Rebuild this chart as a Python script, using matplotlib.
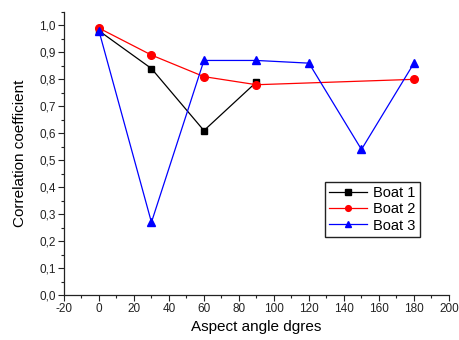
import matplotlib
matplotlib.use("Agg")
import matplotlib.pyplot as plt
from matplotlib.ticker import MultipleLocator, FuncFormatter

plt.rcParams['font.family'] = ['Liberation Sans', 'DejaVu Sans']
plt.rcParams['axes.unicode_minus'] = False

boat1_x = [0, 30, 60, 90]
boat1_y = [0.98, 0.84, 0.61, 0.79]
boat2_x = [0, 30, 60, 90, 180]
boat2_y = [0.99, 0.89, 0.81, 0.78, 0.80]
boat3_x = [0, 30, 60, 90, 120, 150, 180]
boat3_y = [0.98, 0.27, 0.87, 0.87, 0.86, 0.54, 0.86]

fig = plt.figure(figsize=(4.6, 3.4), dpi=100)
ax = fig.add_axes([0.139, 0.132, 0.837, 0.833])

ax.plot(boat1_x, boat1_y, color='black', lw=0.9, marker='s', ms=5, label='Boat 1')
ax.plot(boat2_x, boat2_y, color='red', lw=0.9, marker='o', ms=5.5, label='Boat 2')
ax.plot(boat3_x, boat3_y, color='blue', lw=0.9, marker='^', ms=6, label='Boat 3')

ax.set_xlim(-20, 200)
ax.set_ylim(0, 1.05)
ax.xaxis.set_major_locator(MultipleLocator(20))
ax.xaxis.set_minor_locator(MultipleLocator(10))
ax.yaxis.set_major_locator(MultipleLocator(0.1))
ax.yaxis.set_minor_locator(MultipleLocator(0.05))
ax.yaxis.set_major_formatter(FuncFormatter(lambda v, p: f"{v:.1f}".replace('.', ',')))

for s in ['top', 'right']:
    ax.spines[s].set_visible(False)
for s in ['left', 'bottom']:
    ax.spines[s].set_linewidth(0.9)
    ax.spines[s].set_color('#222222')
ax.tick_params(which='major', direction='out', length=4, width=0.8, labelsize=8.5, colors='#222222', pad=2)
ax.tick_params(which='minor', direction='out', length=2, width=0.8, colors='#222222')

ax.set_xlabel('Aspect angle dgres', fontsize=11, labelpad=3)
ax.set_ylabel('Correlation coefficient', fontsize=11, labelpad=9)

leg = ax.legend(loc='upper left', bbox_to_anchor=(0.678, 0.40), fontsize=10.5,
                frameon=True, fancybox=False, shadow=False, markerscale=0.75,
                borderpad=0.3, handlelength=2.6, handletextpad=0.4, labelspacing=0.15,
                borderaxespad=0, framealpha=1)
leg.get_frame().set_edgecolor('#222222')
leg.get_frame().set_linewidth(1.0)

fig.savefig('out.png', dpi=100)
